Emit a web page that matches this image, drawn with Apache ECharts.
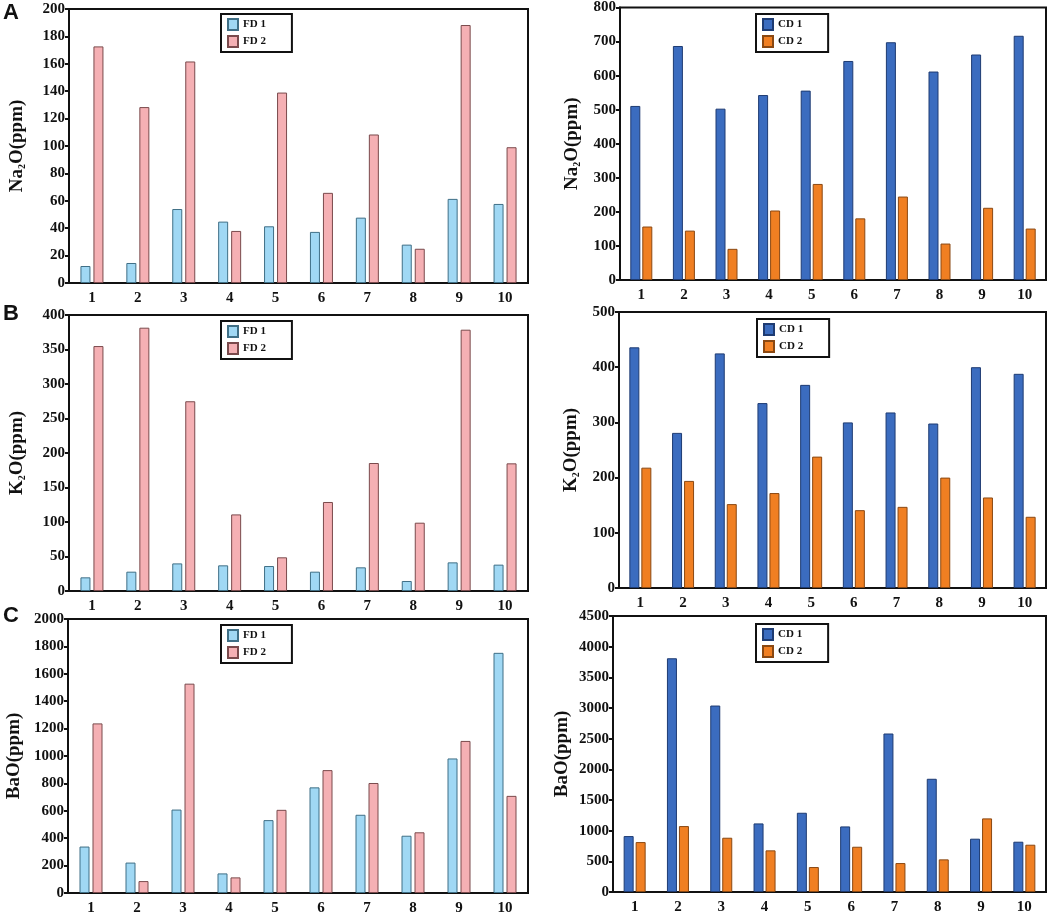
<!DOCTYPE html>
<html>
<head>
<meta charset="utf-8">
<script src="https://cdn.jsdelivr.net/npm/echarts@6/dist/echarts.min.js"></script>
<style>
  html, body { margin: 0; padding: 0; background: #fff; }
  #main { width: 1052px; height: 916px; }
</style>
</head>
<body>
<div id="main"></div>
<script>
// 样品编号
var samples = ['1', '2', '3', '4', '5', '6', '7', '8', '9', '10'];

// Na2O (ppm)
var na2oFD1 = [12.4, 14.6, 54, 44.8, 41.4, 37.3, 47.7, 28, 61.4, 57.7];
var na2oFD2 = [172.7, 128.4, 161.7, 38, 139, 65.8, 108.4, 25, 188.3, 99.1];
var na2oCD1 = [511, 687, 503, 543, 556, 643, 698, 612, 662, 717];
var na2oCD2 = [157, 145, 91.5, 204, 282, 181, 245, 107, 212, 151];

// K2O (ppm)
var k2oFD1 = [19.8, 28, 40, 37.2, 36.2, 28, 34.3, 14.5, 41.5, 38.2];
var k2oFD2 = [355, 381.6, 275, 111, 48.8, 129, 185.5, 99, 378.7, 185];
var k2oCD1 = [436, 281, 425, 335, 368, 300, 318, 298, 400, 388];
var k2oCD2 = [218, 194, 152, 172, 238, 141, 147, 200, 164, 129];

// BaO (ppm)
var baoFD1 = [339, 222, 609, 143, 532, 771, 571, 418, 982, 1753];
var baoFD2 = [1238, 87, 1528, 114, 607, 897, 803, 443, 1110, 709];
var baoCD1 = [912, 3811, 3040, 1118, 1292, 1069, 2584, 1846, 869, 820];
var baoCD2 = [814, 1075, 885, 679, 407, 738, 472, 532, 1200, 771];

// 纵轴刻度 [min, max, interval]
var na2oTicksFD = [0, 200, 20];
var na2oTicksCD = [0, 800, 100];
var k2oTicksFD = [0, 400, 50];
var k2oTicksCD = [0, 500, 100];
var baoTicksFD = [0, 2000, 200];
var baoTicksCD = [0, 4500, 500];

var serif = 'Liberation Serif';

var main = document.getElementById('main');
var chart = echarts.init(main);

// 每个小图: 网格位置, 纵轴标题, 刻度, 两组数据
var panels = [
    {box: [69, 9, 528, 283], name: '{t|Na}{s|2}{t|O(ppm)}', ticks: na2oTicksFD, names: ['FD 1', 'FD 2'], data: [na2oFD1, na2oFD2], gap: 42, legend: [221, 14], fd: true},
    {box: [620, 6, 1046, 280], name: '{t|Na}{s|2}{t|O(ppm)}', ticks: na2oTicksCD, names: ['CD 1', 'CD 2'], data: [na2oCD1, na2oCD2], gap: 38, legend: [756, 14], fd: false},
    {box: [69, 315, 528, 591], name: '{t|K}{s|2}{t|O(ppm)}', ticks: k2oTicksFD, names: ['FD 1', 'FD 2'], data: [k2oFD1, k2oFD2], gap: 42, legend: [221, 321], fd: true},
    {box: [619, 312, 1046, 588], name: '{t|K}{s|2}{t|O(ppm)}', ticks: k2oTicksCD, names: ['CD 1', 'CD 2'], data: [k2oCD1, k2oCD2], gap: 38, legend: [757, 319], fd: false},
    {box: [68, 619, 528, 895], name: '{t|BaO(ppm)}', ticks: baoTicksFD, names: ['FD 1', 'FD 2'], data: [baoFD1, baoFD2], gap: 44, legend: [221, 625], fd: true},
    {box: [613, 616, 1046, 892], name: '{t|BaO(ppm)}', ticks: baoTicksCD, names: ['CD 1', 'CD 2'], data: [baoCD1, baoCD2], gap: 41, legend: [756, 624], fd: false}
];

// 颜色 [填充, 描边]
var fdColors = [['#a0d8f4', '#3f6f86'], ['#f5b0b4', '#7a4a4c']];
var cdColors = [['#3b6cbf', '#1e3b72'], ['#f07f22', '#8a4812']];

var grids = [], xAxes = [], yAxes = [], series = [], legends = [];

panels.forEach(function (p, i) {
    grids.push({
        left: p.box[0], top: p.box[1],
        width: p.box[2] - p.box[0], height: p.box[3] - p.box[1],
        show: true, borderColor: '#111', borderWidth: 2,
        backgroundColor: '#fff'
    });
    xAxes.push({
        type: 'category', gridIndex: i, data: samples,
        axisLine: {lineStyle: {color: '#111', width: 2}},
        axisTick: {show: false},
        axisLabel: {color: '#111', fontFamily: serif, fontWeight: 'bold', fontSize: 15, margin: 8}
    });
    yAxes.push({
        type: 'value', gridIndex: i,
        min: p.ticks[0], max: p.ticks[1], interval: p.ticks[2],
        name: p.name, nameLocation: 'middle', nameGap: p.gap,
        nameTextStyle: {
            rich: {
                t: {fontFamily: serif, fontWeight: 'bold', fontSize: 19, color: '#111'},
                s: {fontFamily: serif, fontWeight: 'bold', fontSize: 10, color: '#111', padding: [10, 0, 0, 0]}
            }
        },
        splitLine: {show: false},
        axisLine: {show: true, lineStyle: {color: '#111', width: 2}},
        axisTick: {show: true, length: 4, lineStyle: {color: '#111', width: 2}},
        axisLabel: {
            color: '#111', fontFamily: serif, fontWeight: 'bold', fontSize: 15, margin: 4,
            formatter: function (v) { return String(v); }
        }
    });
    var cols = p.fd ? fdColors : cdColors;
    p.names.forEach(function (n, k) {
        series.push({
            type: 'bar', name: n, xAxisIndex: i, yAxisIndex: i,
            data: p.data[k],
            barWidth: 10, barGap: p.fd ? '30%' : '20%',
            itemStyle: {color: cols[k][0], borderColor: cols[k][1], borderWidth: 1}
        });
    });
    legends.push({
        data: p.names, orient: 'vertical',
        left: p.legend[0], top: p.legend[1],
        itemWidth: 10, itemHeight: 11, itemGap: 4,
        padding: [4, 26, 4, 6],
        borderColor: '#111', borderWidth: 2, backgroundColor: '#fff',
        icon: 'rect',
        textStyle: {fontFamily: serif, fontWeight: 'bold', fontSize: 11, color: '#111'}
    });
});

// A B C 标注
var letters = [['A', 13], ['B', 314], ['C', 616]].map(function (l) {
    return {
        type: 'text', left: 3, top: l[1] - 11,
        style: {text: l[0], fontFamily: 'Liberation Sans', fontWeight: 'bold', fontSize: 22, fill: '#111'}
    };
});

chart.setOption({
    animation: false,
    grid: grids,
    xAxis: xAxes,
    yAxis: yAxes,
    legend: legends,
    series: series,
    graphic: letters
});
</script>
</body>
</html>
